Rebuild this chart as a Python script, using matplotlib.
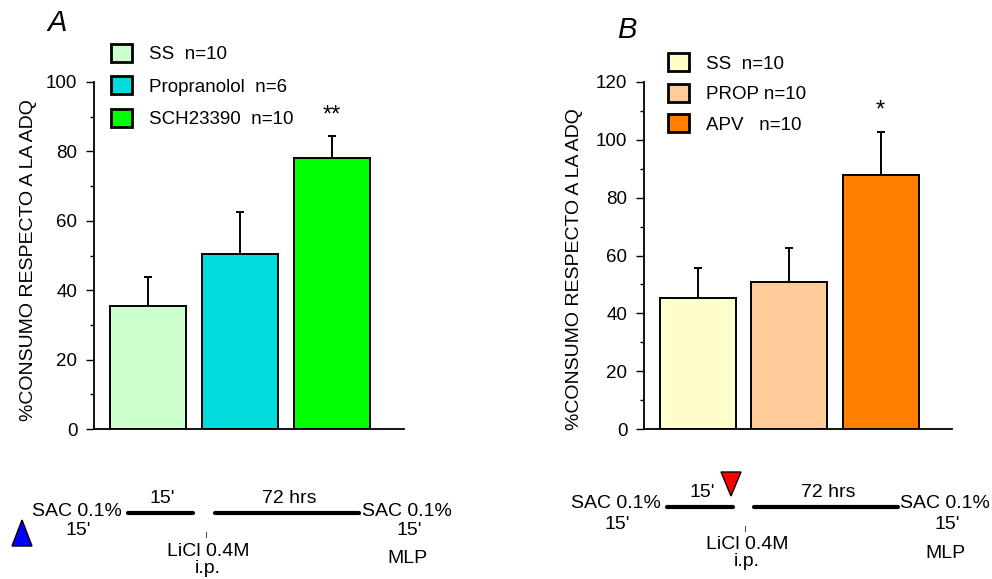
import matplotlib.pyplot as plt
from matplotlib.patches import Polygon
from matplotlib.ticker import MultipleLocator
import numpy as np

plt.rcParams['font.family'] = ['Liberation Sans', 'DejaVu Sans']

# Panel A: SS, propranolol y SCH23390
etiquetas_a = ['SS  n=10', 'Propranolol  n=6', 'SCH23390  n=10']
media_a = [35.4, 50.5, 78.2]
error_a = [8.4, 12.0, 6.1]
colores_a = ['#CCFFCC', '#00DCDC', '#00FF00']
sig_a = ['', '', '**']

# Panel B: SS, PROP y APV
etiquetas_b = ['SS  n=10', 'PROP n=10', 'APV   n=10']
media_b = [45.4, 50.9, 87.9]
error_b = [10.4, 11.7, 14.8]
colores_b = ['#FFFFCC', '#FFCC99', '#FF8000']
sig_b = ['', '', '*']

W, H = 992, 579
fig = plt.figure(figsize=(W / 100, H / 100), dpi=100)


def px(x0, y0, ancho, alto):
    # caja en pixeles -> fracciones de la figura
    return [x0 / W, 1 - (y0 + alto) / H, ancho / W, alto / H]


def panel(ax, medias, errores, colores, etiquetas, sig, ymax, legpos, espacio, labx, laby):
    x = np.arange(len(medias))
    barras = ax.bar(x, medias, width=0.83, color=colores, edgecolor='black',
                    linewidth=1.4, zorder=2)
    ax.errorbar(x, medias, yerr=[np.zeros(len(errores)), errores], fmt='none',
                ecolor='black', elinewidth=1.4, capsize=3, capthick=1.4, zorder=1)
    for i in range(len(medias)):
        if sig[i]:
            ax.text(x[i], medias[i] + errores[i] + 0.03 * ymax, sig[i],
                    ha='center', va='bottom', fontsize=17)
    ax.set_xlim(-0.59, 2.78)
    ax.set_ylim(0, ymax)
    ax.set_xticks([])
    ax.yaxis.set_major_locator(MultipleLocator(20))
    ax.yaxis.set_minor_locator(MultipleLocator(10))
    ax.tick_params(axis='y', which='major', length=6, width=1, pad=6, labelsize=13.5)
    ax.tick_params(axis='y', which='minor', length=3, width=1)
    for s in ['top', 'right']:
        ax.spines[s].set_visible(False)
    for s in ['left', 'bottom']:
        ax.spines[s].set_linewidth(1.3)
    ax.set_ylabel('%CONSUMO RESPECTO A LA ADQ', fontsize=14)
    ax.yaxis.set_label_coords(labx, laby)
    leg = ax.legend(list(barras.patches), etiquetas, loc='upper left',
                    bbox_to_anchor=legpos, frameon=False, fontsize=13.5,
                    borderpad=0, handlelength=1.17, handleheight=1.1,
                    handletextpad=0.9, labelspacing=espacio)
    for h in leg.legend_handles:
        h.set_linewidth(2)


ax_a = fig.add_axes(px(94, 82, 310, 347))
panel(ax_a, media_a, error_a, colores_a, etiquetas_a, sig_a, 100,
      (0.023, 1.137), 0.70, -0.184, 0.487)

ax_b = fig.add_axes(px(644, 82, 308, 347))
panel(ax_b, media_b, error_b, colores_b, etiquetas_b, sig_b, 120,
      (0.046, 1.11), 0.60, -0.198, 0.46)

fig.text(57 / W, 1 - 23 / H, 'A', fontsize=21, style='italic', ha='center', va='center')
fig.text(627 / W, 1 - 30 / H, 'B', fontsize=21, style='italic', ha='center', va='center')

# esquema del protocolo debajo de cada panel
esq = fig.add_axes([0, 0, 1, 1], zorder=-1)
esq.set_xlim(0, W)
esq.set_ylim(H, 0)
esq.axis('off')


def protocolo(ysac, y15, ylin, ysup, ylicl, yip, ymlp, xs):
    x_sac1, x_l1a, x_l1b, x_tick, x_l2a, x_l2b, x_sac2 = xs
    t = dict(fontsize=14, ha='center', va='baseline')
    esq.text(x_sac1, ysac, 'SAC 0.1%', **t)
    esq.text(x_sac1 + 1, y15, "15'", **t)
    esq.plot([x_l1a, x_l1b], [ylin, ylin], color='black', lw=3, solid_capstyle='round')
    esq.plot([x_l2a, x_l2b], [ylin, ylin], color='black', lw=3, solid_capstyle='round')
    esq.text((x_l1a + x_l1b) / 2 + 2, ysup, "15'", **t)
    esq.text((x_l2a + x_l2b) / 2 + 2, ysup, '72 hrs', **t)
    esq.plot([x_tick, x_tick], [ylin + 19, ylin + 24], color='#555555', lw=0.8)
    esq.text(x_tick + 2, ylicl, 'LiCl 0.4M', **t)
    esq.text(x_tick + 2, yip, 'i.p.', **t)
    esq.text(x_sac2, ysac, 'SAC 0.1%', **t)
    esq.text(x_sac2 + 2, y15, "15'", **t)
    esq.text(x_sac2, ymlp, 'MLP', **t)


protocolo(516, 535, 513, 503, 556, 573, 563,
          (77, 128, 193, 206, 215, 359, 407))
protocolo(508, 529, 507, 497, 549, 566, 558,
          (616, 667, 733, 745, 754, 898, 945))

esq.add_patch(Polygon([(12, 546), (32, 546), (22, 520)], closed=True,
                      facecolor='#0000FF', edgecolor='black', lw=1))
esq.add_patch(Polygon([(721, 472), (741, 472), (731, 496)], closed=True,
                      facecolor='#FF0000', edgecolor='black', lw=1))

fig.savefig('out.png', dpi=100)
